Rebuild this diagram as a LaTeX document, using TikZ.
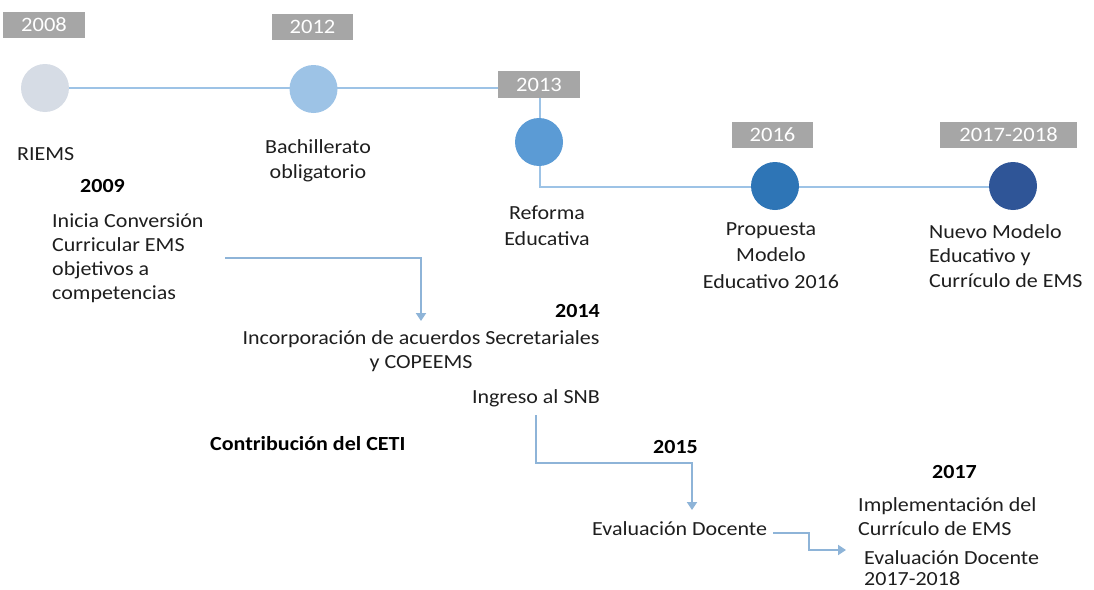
\documentclass[tikz,border=0pt]{standalone}
\usepackage{fontspec}
\setmainfont{Carlito}[FakeStretch=1.1]
\usetikzlibrary{arrows.meta}
\definecolor{yearbox}{HTML}{A6A6A6}
\definecolor{tline}{HTML}{9DC3E6}
\definecolor{aline}{HTML}{8EB4D8}
\definecolor{txt}{HTML}{1E1E1E}
\definecolor{cA}{HTML}{D6DCE5}
\definecolor{cB}{HTML}{9DC3E6}
\definecolor{cC}{HTML}{5B9BD5}
\definecolor{cD}{HTML}{2E75B6}
\definecolor{cE}{HTML}{2F5597}
\tikzset{
  yr/.style={fill=yearbox, text=white, inner sep=0pt, minimum height=26pt, font=\fontsize{20.5}{24}\selectfont},
  dot/.style={circle, minimum size=48pt, inner sep=0pt},
  lbl/.style={inner sep=0pt, text=txt, font=\fontsize{20}{24}\selectfont},
  blbl/.style={lbl, font=\fontsize{20}{24}\selectfont\bfseries, text=black},
  tl/.style={draw=tline, line width=2pt},
  al/.style={draw=aline, line width=2.5pt, -{Triangle[length=8pt,width=10pt]}},
}
\begin{document}
\begin{tikzpicture}[x=1pt,y=-1pt]
\useasboundingbox (0,0) rectangle (1094,589);
% year boxes
\node[yr, minimum width=82pt] (y08) at (44,25) {2008};
\node[yr, minimum width=81pt] (y12) at (312.5,27) {2012};
\node[yr, minimum width=82pt, minimum height=27pt] (y13) at (539,84.5) {2013};
\node[yr, minimum width=81pt] (y16) at (772.5,135) {2016};
\node[yr, minimum width=137pt] (y17) at (1008.5,135) {2017-2018};
% timeline lines
\coordinate (k1) at (540,187);
\draw[tl] (45,88) coordinate (c1p) -- (c1p -| y13.west);
\draw[tl] (540,98) coordinate (b13) -- (k1) -- (1013,187) coordinate (c5p);
% circles
\node[dot, fill=cA] (c1) at (45,88) {};
\node[dot, fill=cB] (c2) at (313.5,89) {};
\node[dot, fill=cC] (c3) at (539,142) {};
\node[dot, fill=cD] (c4) at (775,186) {};
\node[dot, fill=cE] (c5) at (1013,186) {};
% labels under timeline
\node[lbl, anchor=base west] (riems) at (17,160) {RIEMS};
\node[blbl, anchor=base west] (t09) at (80,192) {2009};
\node[lbl, anchor=north west, align=left, font=\fontsize{20}{24}\selectfont] (inicia) at (52,210.2) {\strut Inicia Conversión\\Curricular EMS\\objetivos a\\competencias};
\node[lbl, anchor=north, align=center, font=\fontsize{20}{25}\selectfont] (bach) at (318,135.5) {\strut Bachillerato\\obligatorio};
\node[lbl, anchor=north, align=center, font=\fontsize{20}{26}\selectfont] (ref) at (547,200.8) {\strut Reforma\\Educativa};
\node[lbl, anchor=north, align=center, font=\fontsize{20}{26.5}\selectfont] (prop) at (771,216.5) {\strut Propuesta\\Modelo\\Educativo 2016};
\node[lbl, anchor=north west, align=left, font=\fontsize{20}{24.5}\selectfont] (nuevo) at (929,220.9) {\strut Nuevo Modelo\\ Educativo y\\Currículo de EMS};
% lower part
\node[blbl, anchor=base east] (t14) at (600,317) {2014};
\node[lbl, anchor=north, align=center] (incorp) at (421,327.2) {\strut Incorporación de acuerdos Secretariales\\y COPEEMS};
\node[lbl, anchor=base east] (snb) at (600,403) {Ingreso al SNB};
\node[blbl, anchor=base west] (ceti) at (210,450) {Contribución del CETI};
\node[blbl, anchor=base west] (t15) at (653,453) {2015};
\node[lbl, anchor=base west] (evd) at (592,535) {Evaluación Docente};
\node[blbl, anchor=base west] (t17) at (932,478) {2017};
\node[lbl, anchor=north west, align=left] (impl) at (858,494.2) {\strut Implementación del\\Currículo de EMS};
\node[lbl, anchor=north west, align=left, font=\fontsize{20}{21}\selectfont] (evd2) at (864,549.3) {\strut Evaluación Docente\\2017-2018};
% connectors
\coordinate (s1) at (225,258);
\coordinate (e1) at (421,321);
\draw[al] (s1) -| (e1);
\coordinate (s2) at (536,415);
\coordinate (e2) at (692,510);
\draw[al] (s2) |- (536,463) -| (e2);
\coordinate (s3) at (773,533);
\coordinate (e3) at (846,550);
\draw[al] (s3) -- (809,533) |- (e3);
\end{tikzpicture}
\end{document}
